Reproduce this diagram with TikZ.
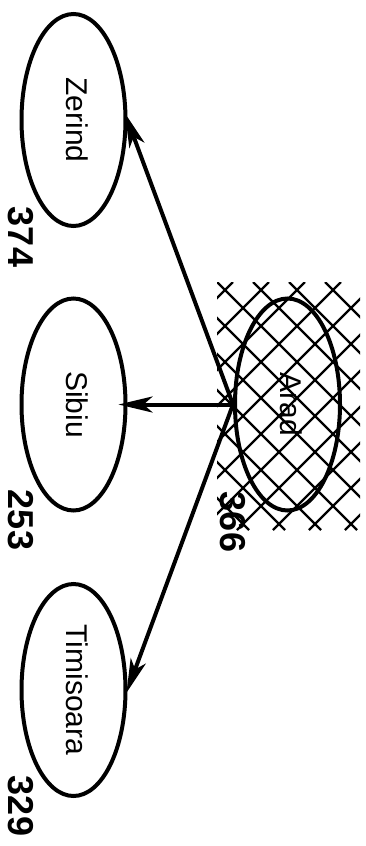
\documentclass[tikz,border=0pt]{standalone}
\usepackage{fontspec}
\setmainfont{Liberation Sans}
\usetikzlibrary{arrows.meta,shapes.geometric}
\begin{document}
\begin{tikzpicture}[x=1pt,y=1pt,
  city/.style={ellipse, draw, line width=4pt, rotate=-90, minimum width=212pt, minimum height=104pt, inner sep=0pt, font=\fontsize{30}{30}\selectfont, text height=21.5pt, text depth=8pt},
  cost/.style={rotate=-90, inner sep=0pt, font=\fontsize{36}{36}\selectfont\bfseries},
  hatchline/.style={line width=2.2pt},
  road/.style={line width=4pt, -{Stealth[length=34pt,width=16pt,inset=9pt]}}]
\useasboundingbox (0,0) rectangle (366,-846);
\begin{scope}
\clip (217,-282) rectangle (360,-530);
\foreach \k in {-7,...,4}{\pgfmathsetmacro\c{-65+36*\k}\draw[hatchline] (\c+282,-282) -- (\c+530,-530);}
\foreach \k in {-1,...,11}{\pgfmathsetmacro\b{515+36*\k}\draw[hatchline] (\b-282,-282) -- (\b-530,-530);}
\end{scope}
\node[city] (zerind) at (73.5,-120) {Zerind};
\node[city] (sibiu) at (73.5,-404.5) {Sibiu};
\node[city] (timisoara) at (73.5,-690) {Timisoara};
\node[city, minimum height=105pt] (arad) at (287.5,-404.5) {Arad};
\node[cost] (hz) at (21,-237) {374};
\node[cost] (hs) at (21,-520) {253};
\node[cost] (ht) at (21,-806) {329};
\node[cost] (ha) at (233,-522) {366};
\draw[road, shorten >=-7pt] (arad.south) -- (zerind.north);
\draw[road, shorten >=-9pt] (arad.south) -- (sibiu.north);
\draw[road, shorten >=-3pt] (arad.south) -- (timisoara.north);
\end{tikzpicture}
\end{document}
